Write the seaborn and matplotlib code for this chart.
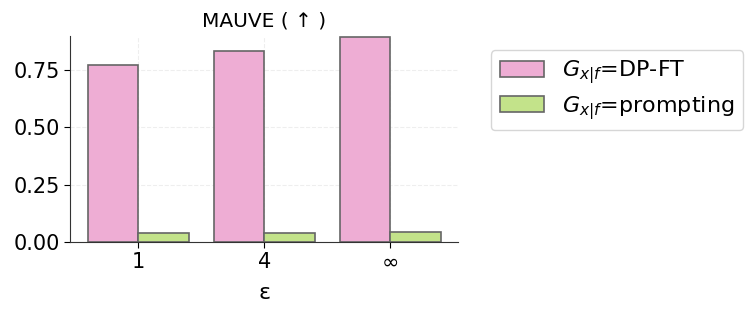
import pandas as pd
import matplotlib
matplotlib.use("Agg")
import matplotlib.pyplot as plt
import seaborn as sns

# values
epsilons = ["1", "4", "∞"]
dp_ft = [0.775, 0.832, 0.896]
prompting = [0.040, 0.040, 0.045]
methods = ["$G_{x|f}$=DP-FT", "$G_{x|f}$=prompting"]
colors = ["#EEADD4", "#C3E38A"]

df = pd.DataFrame({
    "eps": epsilons * 2,
    "mauve": dp_ft + prompting,
    "method": [methods[0]] * 3 + [methods[1]] * 3,
})

sns.set_style("white")
plt.rcParams["font.family"] = ["DejaVu Sans"]
plt.rcParams["text.color"] = "black"
plt.rcParams["xtick.color"] = "black"
plt.rcParams["ytick.color"] = "black"
plt.rcParams["axes.labelcolor"] = "black"

fig = plt.figure(figsize=(7.55, 3.15), dpi=100)
ax = fig.add_axes([0.093, 0.232, 0.514, 0.654])

sns.barplot(data=df, x="eps", y="mauve", hue="method", order=epsilons,
            hue_order=methods, palette=colors, width=0.8, saturation=1,
            edgecolor="#666666", linewidth=1.2, ax=ax)

ax.set_xlim(-0.54, 2.54)
ax.set_ylim(0, 0.9)
ax.set_yticks([0, 0.25, 0.5, 0.75])
ax.grid(True, linestyle="--", color="#eeeeee", linewidth=0.8)
ax.set_axisbelow(True)
sns.despine(ax=ax)
for s in ["left", "bottom"]:
    ax.spines[s].set_color("#333333")
ax.tick_params(axis="both", labelsize=15, length=4, left=True, bottom=True)
ax.set_title("MAUVE ( ↑ )", fontsize=14.5, color="black", pad=7)
ax.set_xlabel("ε", fontsize=16, labelpad=8)
ax.set_ylabel("")

ax.legend(loc="upper left", bbox_to_anchor=(1.055, 0.985), fontsize=16,
          frameon=True, handlelength=2.0, borderpad=0.4, labelspacing=0.35)

fig.savefig("out.png", dpi=100)
